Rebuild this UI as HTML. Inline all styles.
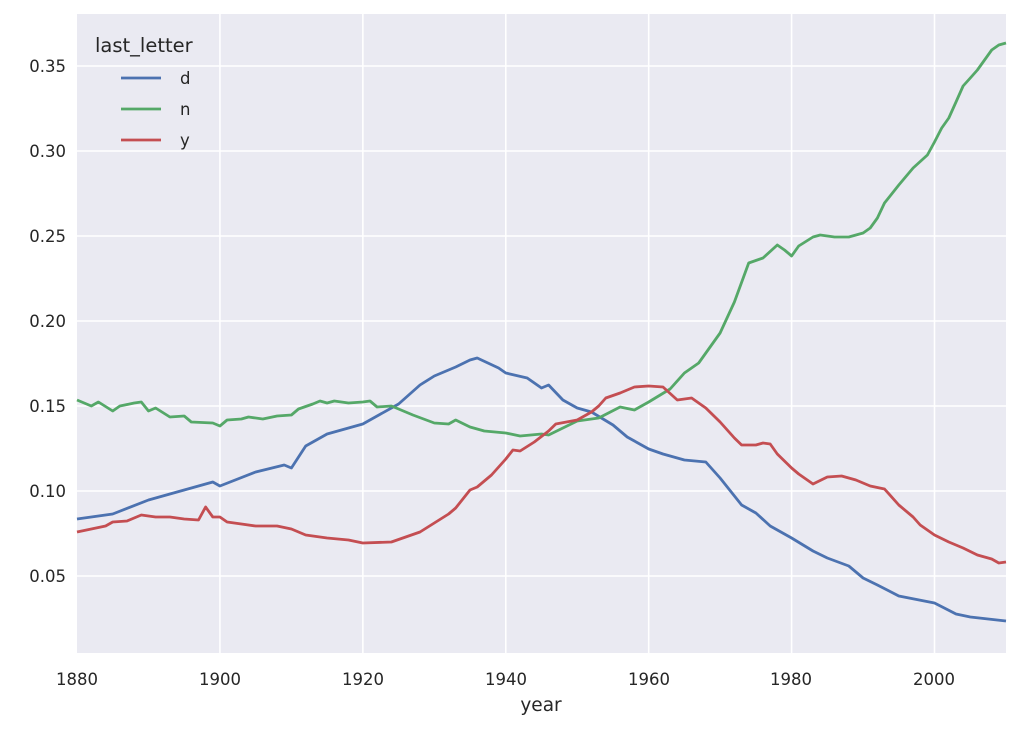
<!DOCTYPE html>
<html><head><meta charset="utf-8"><style>
body{margin:0;background:#fff;}
svg text{font-family:"DejaVu Sans","Liberation Sans",sans-serif;fill:#262626;}
</style></head><body>
<svg id="s" width="1020" height="731" xmlns="http://www.w3.org/2000/svg">
<rect x="77" y="14" width="929" height="639" fill="#eaeaf2"/>
<g id="grid" stroke="#fff" stroke-width="1.6"></g>
<g id="lines" fill="none" stroke-width="2.8" stroke-linejoin="round"></g>
<g font-size="16.5" text-anchor="end">
<text x="66" y="582">0.05</text><text x="66" y="497">0.10</text><text x="66" y="412">0.15</text>
<text x="66" y="327">0.20</text><text x="66" y="242">0.25</text><text x="66" y="157">0.30</text><text x="66" y="72">0.35</text>
</g>
<g font-size="16.5" text-anchor="middle">
<text x="77" y="685">1880</text><text x="220" y="685">1900</text><text x="363" y="685">1920</text>
<text x="506" y="685">1940</text><text x="649" y="685">1960</text><text x="791" y="685">1980</text><text x="934" y="685">2000</text>
<text x="541" y="711" font-size="18.5">year</text>
</g>
<text x="95" y="52" font-size="19.5">last_letter</text>
<line x1="121" y1="78" x2="161" y2="78" stroke="#4c72b0" stroke-width="2.8"/>
<line x1="121" y1="109" x2="161" y2="109" stroke="#55a868" stroke-width="2.8"/>
<line x1="121" y1="140" x2="161" y2="140" stroke="#c44e52" stroke-width="2.8"/>
<text x="180" y="84" font-size="16.5">d</text><text x="180" y="115" font-size="16.5">n</text><text x="180" y="146" font-size="16.5">y</text>
</svg>
<script>
var X=function(y){return 77+(y-1880)*7.146;};
var g=document.getElementById('grid'),h='';
[66,151,236,321,406,491,576].forEach(function(y){h+='<line x1="77" x2="1006" y1="'+y+'" y2="'+y+'"/>';});
[1900,1920,1940,1960,1980,2000].forEach(function(y){var x=X(y);h+='<line y1="14" y2="653" x1="'+x+'" x2="'+x+'"/>';});
g.innerHTML=h;
var d=[1880,519,1885,514,1890,500,1895,490,1899,482,1900,486,1905,472,1909,465,1910,468,1912,446,1915,434,1920,424,1925,404,1928,385,1930,376,1933,367,1935,360,1936,358,1939,368,1940,373,1943,378,1945,388,1946,385,1948,400,1950,408,1952,412,1955,425,1957,437,1960,449,1962,454,1965,460,1968,462,1970,478,1973,505,1975,513,1977,526,1980,538,1983,551,1985,558,1988,566,1990,578,1992,585,1995,596,2000,603,2003,614,2005,617,2010,621];
var n=[1880,400,1882,406,1883,402,1885,411,1886,406,1888,403,1889,402,1890,411,1891,408,1893,417,1895,416,1896,422,1899,423,1900,426,1901,420,1903,419,1904,417,1906,419,1908,416,1910,415,1911,409,1913,404,1914,401,1915,403,1916,401,1918,403,1920,402,1921,401,1922,407,1924,406,1925,409,1927,415,1930,423,1932,424,1933,420,1935,427,1937,431,1940,433,1942,436,1945,434,1946,435,1950,421,1953,418,1956,407,1958,410,1960,402,1963,389,1965,373,1967,363,1970,333,1972,302,1974,263,1976,258,1978,245,1979,250,1980,256,1981,246,1983,237,1984,235,1986,237,1988,237,1990,233,1991,228,1992,218,1993,203,1995,185,1997,168,1999,155,2000,142,2001,128,2002,118,2003,102,2004,86,2005,78,2006,70,2008,50,2009,45,2010,43];
var y=[1880,532,1882,529,1884,526,1885,522,1887,521,1889,515,1891,517,1893,517,1895,519,1897,520,1898,507,1899,517,1900,517,1901,522,1903,524,1905,526,1908,526,1910,529,1912,535,1915,538,1918,540,1920,543,1924,542,1926,537,1928,532,1930,523,1932,514,1933,508,1935,490,1936,487,1938,475,1940,459,1941,450,1942,451,1944,442,1946,431,1947,424,1950,420,1952,412,1953,406,1954,398,1956,393,1958,387,1960,386,1962,387,1964,400,1966,398,1968,408,1970,422,1972,438,1973,445,1975,445,1976,443,1977,444,1978,454,1980,468,1981,474,1983,484,1985,477,1987,476,1989,480,1991,486,1993,489,1995,505,1997,517,1998,525,2000,535,2002,542,2004,548,2006,555,2008,559,2009,563,2010,562];
function pl(a,c){var p=[];for(var i=0;i<a.length;i+=2)p.push(X(a[i]).toFixed(1)+','+a[i+1]);return '<polyline stroke="'+c+'" points="'+p.join(' ')+'"/>';}
document.getElementById('lines').innerHTML=pl(d,'#4c72b0')+pl(n,'#55a868')+pl(y,'#c44e52');
</script>
</body></html>
